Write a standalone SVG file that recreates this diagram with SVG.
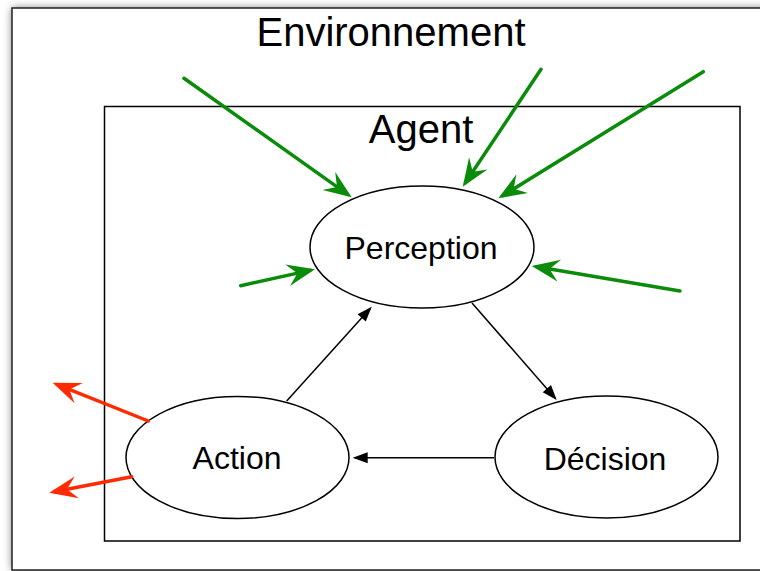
<svg xmlns="http://www.w3.org/2000/svg" width="760" height="571" viewBox="0 0 760 571">
  <defs>
    <filter id="shadow" x="-10%" y="-10%" width="120%" height="120%">
      <feGaussianBlur stdDeviation="4"/>
    </filter>
    <marker id="greenHead" markerUnits="userSpaceOnUse" viewBox="-24 -12 30 24" refX="0" refY="0" markerWidth="30" markerHeight="24" orient="auto">
      <path d="M5,0 L-23,-11 L-13,0 L-23,11 z" fill="#0a8c0a"/>
    </marker>
    <marker id="redHead" markerUnits="userSpaceOnUse" viewBox="-24 -12 30 24" refX="0" refY="0" markerWidth="30" markerHeight="24" orient="auto">
      <path d="M5,0 L-23,-11 L-13,0 L-23,11 z" fill="#ff2a00"/>
    </marker>
    <marker id="blackHead" markerUnits="userSpaceOnUse" viewBox="-14 -6 17 12" refX="0" refY="0" markerWidth="17" markerHeight="12" orient="auto">
      <path d="M2,0 L-13,-5.5 L-13,5.5 z" fill="#000"/>
    </marker>
  </defs>
  <style>
    .lbl { font-family: "Liberation Sans", Arial, sans-serif; fill: #000; text-anchor: middle; }
    .big { font-size: 40px; }
    .node { font-size: 32px; }
    .ell { fill: #fff; stroke: #000; stroke-width: 1.5; }
    .green { stroke: #0a8c0a; stroke-width: 3.5; fill: none; stroke-linecap: round; marker-end: url(#greenHead); }
    .red { stroke: #ff2a00; stroke-width: 3.5; fill: none; stroke-linecap: round; marker-end: url(#redHead); }
    .black { stroke: #000; stroke-width: 1.5; fill: none; marker-end: url(#blackHead); }
  </style>
  <rect width="760" height="571" fill="#fff"/>
  <g id="environnement">
    <rect x="12" y="8" width="800" height="562" fill="#777" filter="url(#shadow)"/>
    <rect x="12" y="8" width="800" height="562" fill="#fff" stroke="#222" stroke-width="1.5"/>
    <text class="lbl big" x="391" y="46">Environnement</text>
  </g>
  <g id="agent">
    <rect x="104.5" y="106.5" width="635.5" height="434.5" fill="none" stroke="#000" stroke-width="1.5"/>
    <text class="lbl big" x="421" y="143">Agent</text>
  </g>
  <g id="perception">
    <ellipse class="ell" cx="422" cy="247" rx="112" ry="61"/>
    <text class="lbl node" x="421" y="259">Perception</text>
  </g>
  <g id="action">
    <ellipse class="ell" cx="237.5" cy="457.5" rx="111.5" ry="61"/>
    <text class="lbl node" x="237" y="469">Action</text>
  </g>
  <g id="decision">
    <ellipse class="ell" cx="606.5" cy="457" rx="111.5" ry="61"/>
    <text class="lbl node" x="605" y="470">Décision</text>
  </g>
  <g id="connectors">
    <line class="black" x1="472" y1="303" x2="555.4" y2="398.5"/>
    <line class="black" x1="286.7" y1="401" x2="370.4" y2="308.2"/>
    <line class="black" x1="494" y1="457.7" x2="354.7" y2="457.7"/>
    <line class="green" x1="184" y1="78.3" x2="347.6" y2="194.4"/>
    <line class="green" x1="541" y1="69.3" x2="465.5" y2="182.5"/>
    <line class="green" x1="703.3" y1="71.7" x2="502.6" y2="195.7"/>
    <line class="green" x1="240.7" y1="285.7" x2="310.1" y2="270.4"/>
    <line class="green" x1="680" y1="291" x2="536.6" y2="266.8"/>
    <line class="red" x1="148.3" y1="421" x2="57.3" y2="384.6"/>
    <line class="red" x1="131.7" y1="476.7" x2="54.2" y2="491.7"/>
  </g>
</svg>
